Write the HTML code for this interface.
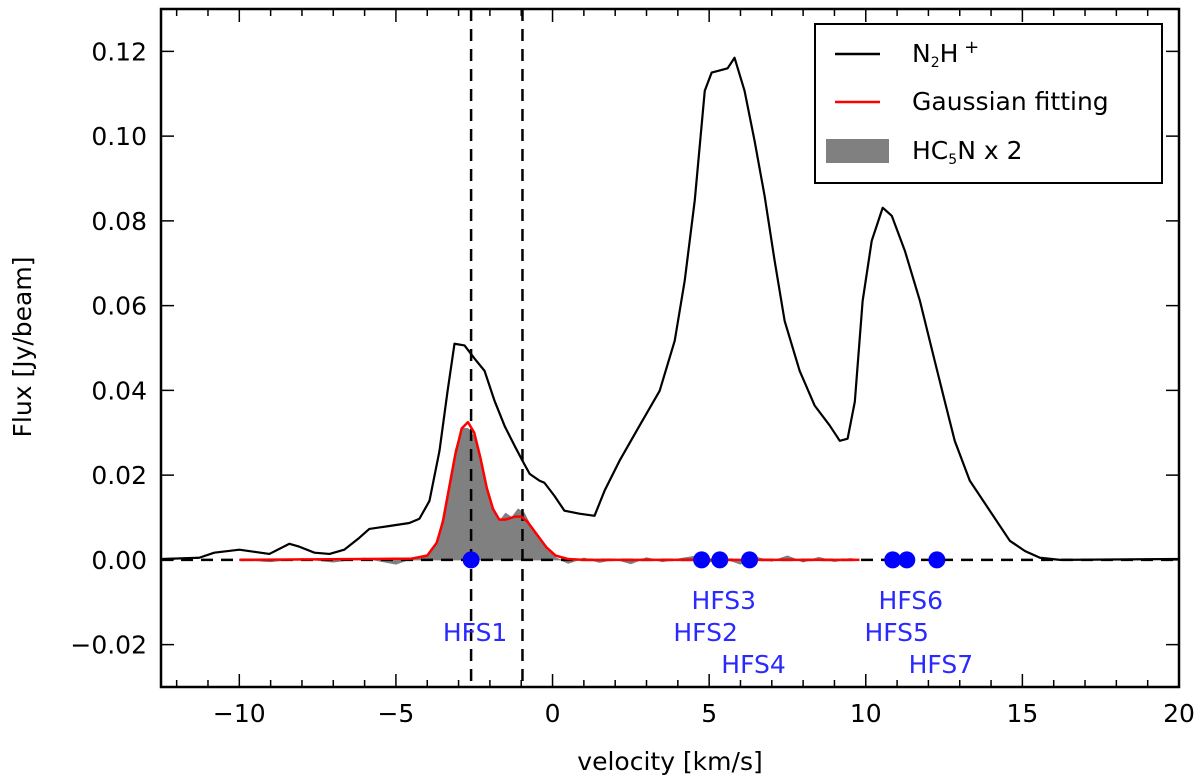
<!DOCTYPE html>
<html><head><meta charset="utf-8"><style>
html,body{margin:0;padding:0;background:#fff;}
svg{display:block;font-family:"DejaVu Sans","Liberation Sans",sans-serif;}
</style></head><body>
<svg id="chart" width="1200" height="782" viewBox="0 0 1200 782" xmlns="http://www.w3.org/2000/svg">
<g id="plot"></g>
</svg>
<script>
const n2hV=[-12.46,-11.28,-10.8,-10.0,-9.52,-9.04,-8.4,-8.08,-7.6,-7.12,-6.65,-6.17,-5.85,-5.21,-4.57,-4.25,-3.93,-3.61,-3.35,-3.13,-2.81,-2.49,-2.17,-1.85,-1.53,-1.21,-0.96,-0.73,-0.42,-0.26,0.06,0.38,0.86,1.34,1.66,2.14,2.78,3.42,3.90,4.22,4.54,4.86,5.08,5.34,5.59,5.81,6.13,6.45,6.77,7.09,7.41,7.89,8.37,8.85,9.17,9.42,9.65,9.90,10.19,10.54,10.83,11.25,11.73,12.20,12.52,12.84,13.32,13.96,14.60,15.08,15.56,16.2,20];
const n2hF=[0.0002,0.0005,0.0017,0.0024,0.0019,0.0014,0.0038,0.0031,0.0017,0.0014,0.0024,0.0052,0.0073,0.0080,0.0087,0.0097,0.0139,0.0257,0.0399,0.051,0.0506,0.0475,0.0446,0.0375,0.0316,0.0269,0.0234,0.0203,0.0187,0.0182,0.0151,0.0116,0.0109,0.0104,0.0163,0.0234,0.0317,0.0399,0.0517,0.0659,0.0848,0.1107,0.1150,0.1155,0.1160,0.1185,0.1107,0.0989,0.0859,0.0706,0.0564,0.0446,0.0364,0.0317,0.0281,0.0286,0.0373,0.0611,0.0753,0.0831,0.0812,0.0729,0.0611,0.0470,0.0375,0.0281,0.0187,0.0116,0.0045,0.0021,0.0005,0.0,0.0002];
const fitV=[-10,-4.5,-4,-3.7,-3.5,-3.3,-3.1,-2.9,-2.7,-2.5,-2.3,-2.1,-1.9,-1.7,-1.5,-1.2,-1.0,-0.8,-0.5,-0.2,0.1,0.5,1,9.8];
const fitF=[0,0.0003,0.001,0.004,0.009,0.017,0.025,0.031,0.0325,0.030,0.024,0.017,0.012,0.0095,0.0095,0.0102,0.0102,0.009,0.006,0.003,0.001,0.0002,0,0];
const hcV=[-10,-9,-8,-7,-6,-5,-4.5,-4,-3.7,-3.5,-3.3,-3.1,-2.9,-2.7,-2.5,-2.3,-2.1,-1.9,-1.7,-1.5,-1.3,-1.1,-0.9,-0.7,-0.5,-0.2,0.1,0.5,1,1.5,2,2.5,3,3.5,4,4.5,5,5.5,6,6.5,7,7.5,8,8.5,9,9.5,9.8];
const hcF=[0,-0.0004,0.0003,-0.0005,0.0004,-0.001,0.0003,0.0012,0.004,0.01,0.018,0.026,0.031,0.031,0.029,0.023,0.016,0.012,0.009,0.011,0.010,0.012,0.011,0.008,0.006,0.003,0.0005,-0.0008,0.0004,-0.0006,0.0002,-0.0009,0.0005,-0.0004,0.0002,0.0008,-0.0005,0.0003,-0.001,0.0006,-0.0003,0.0009,-0.0005,0.0006,-0.0004,0.0003,0];
const hfsNames=["HFS1","HFS2","HFS3","HFS4","HFS5","HFS6","HFS7"];
const hfsV=[-2.6,4.76,5.34,6.29,10.86,11.31,12.27];
const hfsRow=[1,1,0,2,1,0,2];
const vLines=[-2.6,-0.96];
const xTicks=[-10,-5,0,5,10,15,20];
const xTickLabels=["\u221210","\u22125","0","5","10","15","20"];
const yTicks=[-0.02,0,0.02,0.04,0.06,0.08,0.10,0.12];
const yTickLabels=["\u22120.02","0.00","0.02","0.04","0.06","0.08","0.10","0.12"];

const L=161,R=1179,T=9,B=687,xmin=-12.5,xmax=20,ymin=-0.03,ymax=0.13;
const X=v=>L+(v-xmin)/(xmax-xmin)*(R-L);
const Y=f=>B-(f-ymin)/(ymax-ymin)*(B-T);
const NS="http://www.w3.org/2000/svg";
const g=document.getElementById('plot');
function mk(tag,attrs,parent){const e=document.createElementNS(NS,tag);for(const k in attrs)e.setAttribute(k,attrs[k]);(parent||g).appendChild(e);return e;}
const clip=mk('clipPath',{id:'cp'});mk('rect',{x:L,y:T,width:R-L,height:B-T},clip);

let d='M'+X(hcV[0])+','+Y(0);
hcV.forEach((v,i)=>{d+=' L'+X(v)+','+Y(hcF[i]);});
d+=' L'+X(hcV[hcV.length-1])+','+Y(0)+' Z';
let e=mk('path',{d:d,fill:'#808080',stroke:'#808080','stroke-width':1});



e=mk('line',{x1:L,x2:R,y1:Y(0),y2:Y(0),stroke:'#000','stroke-width':2.5,'stroke-dasharray':'12,8'});


vLines.forEach(v=>{
  const l=mk('line',{x1:X(v),x2:X(v),y1:T,y2:B,stroke:'#000','stroke-width':2.5,'stroke-dasharray':'12,8'});
  
  
});

e=mk('polyline',{points:fitV.map((v,i)=>X(v)+','+Y(fitF[i])).join(' '),fill:'none',stroke:'#ff0000','stroke-width':2.5,'stroke-linejoin':'round'});



e=mk('polyline',{points:n2hV.map((v,i)=>X(v)+','+Y(n2hF[i])).join(' '),fill:'none',stroke:'#000','stroke-width':2.2,'stroke-linejoin':'round','clip-path':'url(#cp)'});



const rowY=[600,632,664];
hfsV.forEach((v,i)=>{
  const c=mk('circle',{cx:X(v),cy:Y(0),r:8.5,fill:'#0000ff'});
  
  
  const t=mk('text',{x:X(v)+4,y:rowY[hfsRow[i]]+9,'text-anchor':'middle','font-size':25,fill:'#2a2aff'});
  t.textContent=hfsNames[i];
  
  
});

e=mk('rect',{x:L,y:T,width:R-L,height:B-T,fill:'none',stroke:'#000','stroke-width':2.5});



for(let v=-12;v<=20;v++){
  const major=xTicks.includes(v);const len=major?13:7;
  mk('line',{x1:X(v),x2:X(v),y1:B,y2:B-len,stroke:'#000','stroke-width':1.5});
  mk('line',{x1:X(v),x2:X(v),y1:T,y2:T+len,stroke:'#000','stroke-width':1.5});
}
xTicks.forEach((v,i)=>{
  const t=mk('text',{x:X(v),y:722,'text-anchor':'middle','font-size':25,fill:'#000'});
  t.textContent=xTickLabels[i];
  
  
});
yTicks.forEach((v,i)=>{
  mk('line',{x1:L,x2:L+13,y1:Y(v),y2:Y(v),stroke:'#000','stroke-width':1.5});
  mk('line',{x1:R,x2:R-13,y1:Y(v),y2:Y(v),stroke:'#000','stroke-width':1.5});
  const t=mk('text',{x:147,y:Y(v)+9,'text-anchor':'end','font-size':25,fill:'#000'});
  t.textContent=yTickLabels[i];
  
  
});
e=mk('text',{x:670,y:770,'text-anchor':'middle','font-size':25,fill:'#000'});
e.textContent='velocity [km/s]';


e=mk('text',{x:0,y:0,'text-anchor':'middle','font-size':25,fill:'#000',transform:'translate(31,347) rotate(-90)'});
e.textContent='Flux [Jy/beam]';



const lg=mk('g',{});


mk('rect',{x:815,y:24,width:347,height:159,fill:'#fff',stroke:'#000','stroke-width':2},lg);
mk('line',{x1:835,x2:880,y1:54,y2:54,stroke:'#000','stroke-width':2.5},lg);
mk('line',{x1:835,x2:880,y1:102,y2:102,stroke:'#ff0000','stroke-width':2.5},lg);
mk('rect',{x:826,y:139,width:63,height:24,fill:'#808080'},lg);
e=mk('text',{x:912,y:62,'font-size':25,fill:'#000'},lg);
e.innerHTML='N<tspan font-size="14" dy="5">2</tspan><tspan dy="-5">H</tspan><tspan font-size="18" dy="-9"> +</tspan>';


e=mk('text',{x:912,y:110,'font-size':25,fill:'#000'},lg);
e.textContent='Gaussian fitting';


e=mk('text',{x:912,y:159,'font-size':25,fill:'#000'},lg);
e.innerHTML='HC<tspan font-size="14" dy="5">5</tspan><tspan dy="-5">N x 2</tspan>';


</script>
</body></html>
